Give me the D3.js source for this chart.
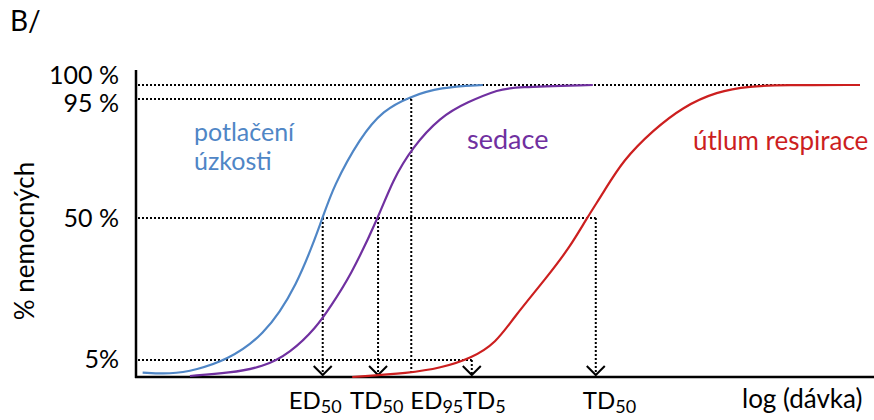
<!DOCTYPE html>
<html>
<head>
<meta charset="utf-8">
<script src="https://cdn.jsdelivr.net/npm/d3@7"></script>
<style>
  body { margin: 0; background: #fff; }
  text { font-family: Lato, "Noto Sans", sans-serif; }
</style>
</head>
<body>
<div id="dose_viz"></div>
<script>
// log (dose) in arbitrary units, response in % of patients
const anxietyDose = [0.09, 0.46, 0.82, 1.23, 1.72, 2.18, 2.53, 2.67, 3.04, 3.35, 3.71, 4.12, 4.70];
const anxietyPct  = [1.3, 0.8, 2.1, 5, 12.3, 28.1, 50, 61.7, 80.6, 90.8, 95.8, 99.2, 100];

const sedationDose = [0.73, 1.27, 1.72, 2.09, 2.45, 2.63, 2.90, 3.28, 3.48, 3.74, 4.12, 4.49, 4.93, 5.11, 6.19];
const sedationPct  = [0.3, 1.2, 2.9, 7.2, 15.5, 21.8, 31.3, 50, 64.4, 76.5, 88.2, 93.9, 98.5, 99.2, 100];

const respDose = [2.93, 3.71, 4.12, 4.55, 4.88, 5.11, 5.57, 5.88, 6.11, 6.33, 6.60, 7.01, 7.41, 7.87, 8.32, 8.77, 9.81];
const respPct  = [0, 1.2, 2.6, 5.6, 10.5, 18.2, 31.3, 40.8, 50, 59.5, 71.9, 83.3, 92, 97.7, 99.6, 100, 100];

// dose markers on the x axis
const markerName = ["ED", "TD", "ED", "TD", "TD"];
const markerSub  = ["50", "50", "95", "5", "50"];
const markerDose = [2.53, 3.28, 3.73, 4.55, 6.23];
const markerPct  = [50, 50, 95, 5, 50];
const markerArrow = [true, true, false, true, true];

// horizontal guide lines (percent level, dose where they stop)
const guidePct  = [100, 95, 50, 5];
const guideDose = [9.81, 3.73, 6.23, 4.55];

// y tick labels
const yTickPct   = [100, 95, 50, 5];
const yTickLabel = ["100 %", "95 %", "50 %", "5%"];

// set the dimensions of the graph
const W = 874, H = 420;
const plot = {left: 136, right: 874, top: 70, bottom: 377};

const color_mapping = {
    blue: '#4f86c6',
    purple: '#7030a0',
    red: '#cc1f1f'
}

const svg = d3.select("#dose_viz")
    .append("svg")
        .attr("width", W)
        .attr("height", H);

// X scale: log dose
const x = d3.scaleLinear()
    .domain([0, 10])
    .range([plot.left, plot.right]);

// Y scale: schematic, not linear between the marked levels
const y = d3.scaleLinear()
    .domain([0, 5, 50, 95, 100])
    .range([plot.bottom, 360, 218, 99, 85]);

// axes
svg.append("line")
    .attr("x1", plot.left).attr("x2", plot.left)
    .attr("y1", plot.top).attr("y2", plot.bottom + 1)
    .attr("stroke", "black").attr("stroke-width", 2.5);

svg.append("line")
    .attr("x1", plot.left - 1).attr("x2", plot.right)
    .attr("y1", plot.bottom).attr("y2", plot.bottom)
    .attr("stroke", "black").attr("stroke-width", 2.5);

// dotted guides
const dotted = {stroke: "black", width: 2, dash: "2 2"};

svg.append("g")
    .selectAll("line")
    .data(guidePct)
    .join("line")
        .attr("x1", plot.left + 2)
        .attr("x2", (d, i) => x(guideDose[i]))
        .attr("y1", d => y(d))
        .attr("y2", d => y(d))
        .attr("stroke", dotted.stroke)
        .attr("stroke-width", dotted.width)
        .attr("stroke-dasharray", dotted.dash);

svg.append("g")
    .selectAll("line")
    .data(markerDose)
    .join("line")
        .attr("x1", d => x(d))
        .attr("x2", d => x(d))
        .attr("y1", (d, i) => y(markerPct[i]))
        .attr("y2", plot.bottom - 2)
        .attr("stroke", dotted.stroke)
        .attr("stroke-width", dotted.width)
        .attr("stroke-dasharray", dotted.dash);

// arrow heads
svg.append("g")
    .selectAll("path")
    .data(markerDose.filter((d, i) => markerArrow[i]))
    .join("path")
        .attr("d", d => `M${x(d) - 9},${plot.bottom - 11} L${x(d)},${plot.bottom - 2} L${x(d) + 9},${plot.bottom - 11}`)
        .attr("fill", "none")
        .attr("stroke", "black")
        .attr("stroke-width", 2);

// dose-response curves
const curves = [
    {dose: anxietyDose, pct: anxietyPct, color: color_mapping.blue},
    {dose: sedationDose, pct: sedationPct, color: color_mapping.purple},
    {dose: respDose, pct: respPct, color: color_mapping.red}
];

const line = d3.line()
    .x(d => x(d[0]))
    .y(d => y(d[1]))
    .curve(d3.curveBasis);

svg.append("g")
    .selectAll("path")
    .data(curves)
    .join("path")
        .attr("d", c => line(d3.zip(c.dose, c.pct)))
        .attr("fill", "none")
        .attr("stroke", c => c.color)
        .attr("stroke-width", 2.2);

// y tick labels
const yTickDy = [-1, 13, 9, 8];
svg.append("g")
    .selectAll("text")
    .data(yTickPct)
    .join("text")
        .attr("x", 119)
        .attr("y", (d, i) => y(d) + yTickDy[i])
        .attr("text-anchor", "end")
        .style("font-size", "25px")
        .text((d, i) => yTickLabel[i]);

// marker labels on x axis
const markerDx = [-34, -28, -1, -9, -13];
const markerLabels = svg.append("g")
    .selectAll("text")
    .data(markerDose)
    .join("text")
        .attr("x", (d, i) => x(d) + markerDx[i])
        .attr("y", 409)
        .style("font-size", "24px");

markerLabels.append("tspan").text((d, i) => markerName[i]);
markerLabels.append("tspan")
    .attr("dy", 4)
    .style("font-size", "18px")
    .text((d, i) => markerSub[i]);

// axis titles
svg.append("text")
    .attr("x", 742).attr("y", 408)
    .style("font-size", "26px")
    .text("log (dávka)");

svg.append("text")
    .attr("transform", "translate(34,241) rotate(-90)")
    .attr("text-anchor", "middle")
    .style("font-size", "26px")
    .text("% nemocných");

svg.append("text")
    .attr("x", 10).attr("y", 31)
    .style("font-size", "28px")
    .text("B/");

// curve names
svg.append("text")
    .attr("x", 194).attr("y", 141)
    .style("font-size", "25px")
    .attr("fill", color_mapping.blue)
    .text("potlačení");

svg.append("text")
    .attr("x", 194).attr("y", 170)
    .style("font-size", "25px")
    .attr("fill", color_mapping.blue)
    .text("úzkosti");

svg.append("text")
    .attr("x", 467).attr("y", 149)
    .style("font-size", "27px")
    .attr("fill", color_mapping.purple)
    .text("sedace");

svg.append("text")
    .attr("x", 693).attr("y", 150)
    .style("font-size", "26px")
    .attr("fill", color_mapping.red)
    .text("útlum respirace");
</script>
</body>
</html>
